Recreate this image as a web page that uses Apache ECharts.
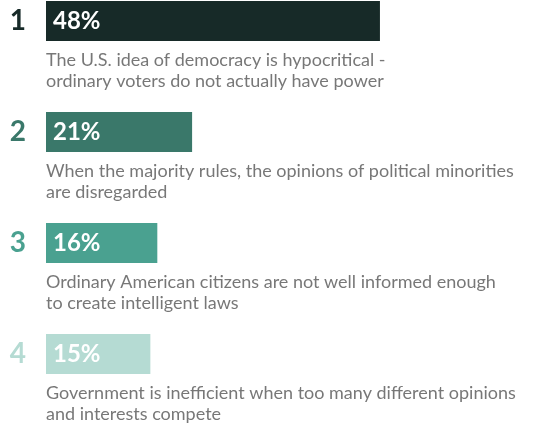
<!DOCTYPE html>
<html>
<head>
<meta charset="utf-8">
<script src="https://cdn.jsdelivr.net/npm/echarts@6/dist/echarts.min.js"></script>
<style>
  html, body { margin: 0; padding: 0; background: #fff; }
  #chart { width: 538px; height: 423px; }
</style>
</head>
<body>
<div id="chart"></div>
<script>
// Ranked reasons, top to bottom
const ranks = ['1', '2', '3', '4'];
const shares = [48, 21, 16, 15];
const reasons = [
  'The U.S. idea of democracy is hypocritical -\nordinary voters do not actually have power',
  'When the majority rules, the opinions of political minorities\nare disregarded',
  'Ordinary American citizens are not well informed enough\nto create intelligent laws',
  'Government is inefficient when too many different opinions\nand interests compete'
];
const rankColors = ['#172a28', '#3a786a', '#4aa190', '#b5dbd3'];

const FONT = 'Lato, "Open Sans", sans-serif';

const rich = {};
rankColors.forEach((c, i) => {
  rich['r' + i] = { color: c, fontSize: 28, fontWeight: 'bold', fontFamily: FONT };
});

const chart = echarts.init(document.getElementById('chart'), null, { renderer: 'canvas' });
chart.setOption({
  animation: false,
  // rows sit on the category points (no boundary gap), first at the top edge
  grid: { left: 46, top: 21, height: 333, width: 487, containLabel: false },
  xAxis: {
    type: 'value', min: 0, max: 70,
    show: false
  },
  yAxis: {
    type: 'category',
    data: ranks,
    inverse: true,
    boundaryGap: false,
    axisLine: { show: false },
    axisTick: { show: false },
    splitLine: { show: false },
    axisLabel: {
      margin: 20,
      formatter: (v, i) => '{r' + i + '|' + v + '}',
      rich: rich
    }
  },
  series: [
    {
      type: 'bar',
      data: shares.map((v, i) => ({ value: v, itemStyle: { color: rankColors[i] } })),
      barWidth: 40,
      label: {
        show: true,
        position: 'insideLeft',
        distance: 7,
        formatter: '{c}%',
        color: '#fff',
        fontSize: 24,
        fontWeight: 'bold',
        fontFamily: FONT
      }
    },
    {
      type: 'scatter',
      data: reasons.map((t, i) => ({ value: [0, i], name: t })),
      symbolSize: 0,
      silent: true,
      label: {
        show: true,
        position: [0, 0],
        offset: [0, 29],
        align: 'left',
        verticalAlign: 'top',
        formatter: p => p.name,
        color: '#555555',
        fontSize: 18,
        lineHeight: 21,
        fontFamily: FONT
      }
    }
  ]
});
</script>
</body>
</html>
